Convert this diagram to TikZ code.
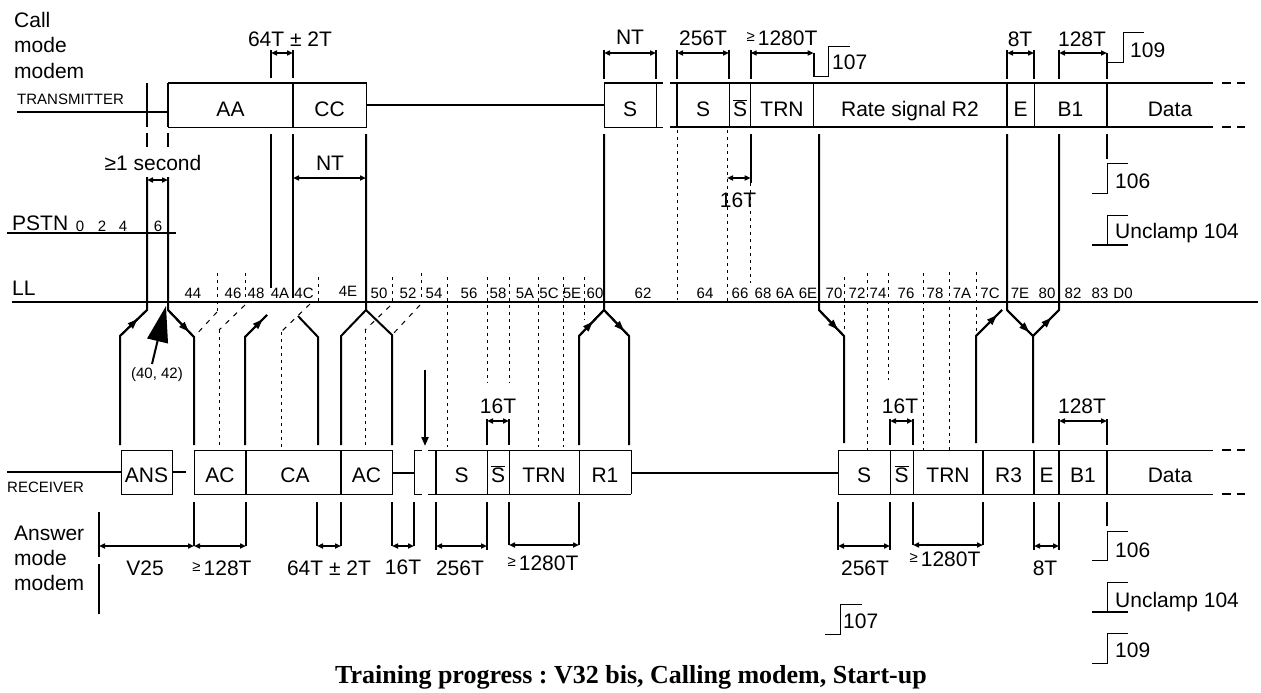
\documentclass[tikz,border=0pt]{standalone}
\usepackage{fontspec}
\setmainfont{Liberation Sans}
\newfontfamily\titlefont{Liberation Serif}
\usetikzlibrary{arrows.meta,decorations.markings}
\frenchspacing
\newcommand{\fsz}[1]{\fontsize{#1}{#1}\selectfont}
\newcommand{\Sbar}{\ensuremath{\overline{\hbox{S}}}}
\newcommand{\sge}{{\fsz{15}\raisebox{4pt}{≥}}\hspace{3pt}}
\begin{document}
\begin{tikzpicture}[x=1pt,y=-1pt,
  lab/.style={inner sep=0pt, anchor=base, font=\fsz{21}},
  labw/.style={inner sep=0pt, anchor=base west, font=\fsz{21}},
  small/.style={inner sep=0pt, anchor=base, font=\fsz{15}},
  sig/.style={line width=2pt},
  med/.style={line width=1.5pt},
  thin/.style={line width=1pt},
  dot/.style={line width=1pt, dash pattern=on 2.5pt off 4.5pt},
  dsh/.style={line width=1pt, dash pattern=on 5pt off 6pt},
  dim/.style={line width=1.6pt, >={Triangle[length=6pt,width=5pt]}, <->},
  marr/.style={postaction={decorate}, decoration={markings, mark=at position #1 with {\arrow{Triangle[length=10pt,width=7pt]}}}},
]
\useasboundingbox (0,0) rectangle (1261,693);

% ---------- left labels ----------
\node[labw] (call) at (14,28) {Call};
\node[labw] (mode1) at (14,53) {mode};
\node[labw] (modem1) at (14,78) {modem};
\node[small, anchor=base west] (tx) at (17,104) {TRANSMITTER};
\node[labw] (pstn) at (12,230) {PSTN};
\node[small] (p0) at (80,231) {0};
\node[small] (p2) at (102,231) {2};
\node[small] (p4) at (123,231) {4};
\node[small] (p6) at (158,231) {6};
\node[labw] (ll) at (12,295) {LL};
\node[small, anchor=base west] (rx) at (7,492) {RECEIVER};
\node[labw] (ans1) at (14,540) {Answer};
\node[labw] (mode2) at (14,565) {mode};
\node[labw] (modem2) at (14,590) {modem};

% ---------- main lines ----------
\draw[sig] (7,233) -- (176,233);
\draw[sig] (12,302) -- (1258,302);

% ---------- transmitter band ----------
\draw[sig] (17,112) -- (168,112);
\draw[sig] (147,83) -- (147,127);
\draw[thin] (168,83) rectangle (366,127);
\draw[sig] (168,83) -- (168,127);
\draw[med] (293,83) -- (293,127);
\draw[med] (366,105) -- (604,105);
\draw[thin] (604,83) rectangle (656,127);
\draw[thin] (656,83) -- (663,83) (656,127) -- (663,127);
\draw[med] (670,83) -- (1213,83) (670,127) -- (1213,127);
\draw[med, dash pattern=on 9pt off 6pt] (1222,83) -- (1245,83) (1222,127) -- (1245,127);
\draw[sig] (677,83) -- (677,127);
\draw[thin] (729,83) -- (729,127);
\draw[med] (750.7,83) -- (750.7,127);
\draw[med] (813.7,83) -- (813.7,127);
\draw[sig] (1007,83) -- (1007,127);
\draw[thin] (1034,83) -- (1034,127);
\draw[sig] (1107,83) -- (1107,127);
\node[lab] (tAA) at (230.5,116) {AA};
\node[lab] (tCC) at (329.5,116) {CC};
\node[lab] (tS1) at (630,116) {S};
\node[lab] (tS2) at (703,116) {S};
\node[lab] (tSb) at (740,116) {\Sbar};
\node[lab] (tTRN) at (782,116) {TRN};
\node[lab] (tR2) at (910,116) {Rate signal R2};
\node[lab] (tE) at (1020.5,116) {E};
\node[lab] (tB1) at (1070.5,116) {B1};
\node[lab] (tData) at (1170,116) {Data};

% ---------- receiver band ----------
\draw[sig] (7,472) -- (121,472);
\draw[thin] (121,450) rectangle (172,494);
\draw[med] (172,472) -- (186,472);
\draw[thin] (194,450) rectangle (392,494);
\draw[med] (246,450) -- (246,494) (341,450) -- (341,494);
\draw[med] (392,473) -- (414,473);
\draw[thin] (422,450) -- (414,450) -- (414,494) -- (422,494);
\draw[thin] (428,450) -- (631,450) (428,494) -- (631,494);
\draw[med] (436,450) -- (436,494);
\draw[thin] (487,450) -- (487,494) (509,450) -- (509,494) (579,450) -- (579,494) (631,450) -- (631,494);
\draw[med] (631,473) -- (838,473);
\draw[thin] (838,450) -- (1213,450) (838,494) -- (1213,494);
\draw[thin] (838,450) -- (838,494) (890,450) -- (890,494) (913,450) -- (913,494);
\draw[med] (983,450) -- (983,494) (1034,450) -- (1034,494) (1059,450) -- (1059,494) (1107,450) -- (1107,494);
\draw[med, dash pattern=on 9pt off 6pt] (1222,450) -- (1245,450) (1222,494) -- (1245,494);
\node[lab] (rANS) at (146.5,482) {ANS};
\node[lab] (rAC1) at (220,482) {AC};
\node[lab] (rCA) at (295,482) {CA};
\node[lab] (rAC2) at (366.5,482) {AC};
\node[lab] (rS1) at (461.5,482) {S};
\node[lab] (rSb1) at (498,482) {\Sbar};
\node[lab] (rTRN1) at (544,482) {TRN};
\node[lab] (rR1) at (605,482) {R1};
\node[lab] (rS2) at (864,482) {S};
\node[lab] (rSb2) at (901.5,482) {\Sbar};
\node[lab] (rTRN2) at (948,482) {TRN};
\node[lab] (rR3) at (1008.5,482) {R3};
\node[lab] (rE) at (1046.5,482) {E};
\node[lab] (rB1) at (1083,482) {B1};
\node[lab] (rData) at (1170,482) {Data};

% ---------- top dimensions ----------
\draw[sig] (271,50) -- (271,78) (293,50) -- (293,78);
\draw[dim] (271,53) -- (293,53);
\node[lab] (d64t) at (290,47) {64T ± 2T};
\draw[sig] (604,50) -- (604,79) (656,50) -- (656,79);
\draw[dim] (604,53) -- (656,53);
\node[lab] (dNTt) at (630,45) {NT};
\draw[sig] (677,50) -- (677,79) (729,50) -- (729,79);
\draw[dim] (677,53) -- (729,53);
\node[lab] (d256t) at (703,46) {256T};
\draw[sig] (750.7,50) -- (750.7,79) (813.7,53) -- (813.7,77);
\draw[dim] (750.7,53) -- (813.7,53);
\node[lab] (d1280t) at (782,46) {\sge 1280T};
\draw[thin] (813.7,77) -- (828,77) -- (828,47) -- (850,47);
\node[labw] (l107t) at (832,70) {107};
\draw[sig] (1007,50) -- (1007,79) (1034,50) -- (1034,79);
\draw[dim] (1007,53) -- (1034,53);
\node[lab] (d8t) at (1020,47) {8T};
\draw[sig] (1059,50) -- (1059,79) (1107,53) -- (1107,79);
\draw[dim] (1059,53) -- (1107,53);
\node[lab] (d128t) at (1082,47) {128T};
\draw[thin] (1107,63) -- (1123,63) -- (1123,33) -- (1144,33);
\node[labw] (l109t) at (1130,58) {109};

% ---------- middle dimensions ----------
\node[lab] (dsec) at (153,170) {≥1 second};
\draw[sig] (147,133) -- (147,147) (168,133) -- (168,147);
\draw[dim] (147,180) -- (168,180);
\draw[dim] (293,178) -- (366,178);
\node[lab] (dNTm) at (330,170) {NT};
\draw[dim] (727,178) -- (750.7,178);
\node[lab] (d16m) at (738,207) {16T};
\draw[thin] (1092,193) -- (1107,193) -- (1107,163) -- (1128,163);
\node[labw] (l106t) at (1115,188) {106};
\draw[thin] (1128,215) -- (1107,215) -- (1107,245);
\draw[med] (1092,245) -- (1128,245);
\node[labw] (lunct) at (1115,238) {Unclamp 104};

% ---------- signal lines ----------
\draw[sig] (147,177) -- (147,310) -- (120,336) -- (120,445);
\draw[sig, marr=0.65] (120,336) -- (147,310);
\draw[sig] (168,177) -- (168,310) -- (194,337) -- (194,445);
\draw[sig, marr=0.8] (168,310) -- (194,337);
\draw[sig] (271,134) -- (271,288);
\draw[sig] (293,134) -- (293,298);
\draw[sig] (366,134) -- (366,310) -- (341,336) -- (341,445);
\draw[sig] (366,310) -- (392,335) -- (392,445);
\draw[sig] (604,134) -- (604,310) -- (579,336) -- (579,445);
\draw[sig, marr=0.55] (579,336) -- (604,310);
\draw[sig] (604,310) -- (629,336) -- (629,445);
\draw[sig, marr=0.8] (604,310) -- (629,336);
\draw[sig] (750.7,134) -- (750.7,183);
\draw[sig] (819,134) -- (819,310) -- (844,336) -- (844,443);
\draw[sig, marr=0.75] (819,310) -- (844,336);
\draw[sig] (1007,134) -- (1007,310) -- (1033,336) -- (1033,443);
\draw[sig, marr=0.85] (1007,310) -- (1033,336);
\draw[sig] (1033,336) -- (1059,310) -- (1059,134);
\draw[sig, marr=0.7] (1033,336) -- (1059,310);
\draw[sig] (1107,134) -- (1107,159);
\draw[sig] (245,445) -- (245,337) -- (267,315);
\draw[sig, marr=0.8] (245,337) -- (267,315);
\draw[sig] (976,443) -- (976,336) -- (1002,310);
\draw[sig, marr=0.8] (976,336) -- (1002,310);
\draw[sig] (318,445) -- (318,337) -- (298,316);
\draw[sig, -{Triangle[length=9pt,width=7pt]}] (425,370) -- (425,446);

% big arrow (40, 42)
\node[small] (c4042) at (157,378) {(40, 42)};
\draw[line width=2pt, -{Triangle[length=36pt,width=21pt]}] (152,364) -- (166,306);

% ---------- dotted event lines ----------
\draw[dot] (217,273) -- (217,312);
\draw[dsh] (217,312) -- (194,337);
\draw[dot] (245,273) -- (245,302);
\draw[dsh] (245,305) -- (219,330);
\draw[dot] (219,330) -- (219,447);
\draw[dot] (318,277) -- (318,302);
\draw[dsh] (310,304) -- (281,332);
\draw[dot] (281,332) -- (281,447);
\draw[dot] (392,277) -- (392,302);
\draw[dsh] (390,306) -- (365,330);
\draw[dot] (365,330) -- (365,447);
\draw[dot] (421,273) -- (421,302);
\draw[dsh] (420,305) -- (392,335);
\draw[dot] (447,277) -- (447,447);
\draw[dot] (487,277) -- (487,383);
\draw[dot] (509,277) -- (509,383);
\draw[dot] (538,277) -- (538,447);
\draw[dot] (563,277) -- (563,447);
\draw[dot] (584,277) -- (584,320);
\draw[dot] (677,130) -- (677,300);
\draw[dot] (727,130) -- (727,302);
\draw[dot] (750.7,183) -- (750.7,283);
\draw[dot] (844,277) -- (844,330);
\draw[dot] (867,273) -- (867,450);
\draw[dot] (888,273) -- (888,380);
\draw[dot] (923,273) -- (923,450);
\draw[dot] (949,272) -- (949,450);
\draw[dot] (976,272) -- (976,336);

% ---------- LL labels ----------
\foreach \t/\x in {44/193,46/233,48/256,4A/280,4C/304,50/379,52/408,54/434,56/469,58/498,5A/525,5C/549,5E/572,60/595,62/643,64/705,66/740,68/763,6A/785,6E/808,70/834,72/857,74/878,76/906,78/935,7A/962,7C/990,7E/1020,80/1047,82/1073,83/1100,D0/1123}
  \node[small] (ll\t) at (\x,298) {\t};
\node[small] (ll4E) at (348,296) {4E};

% ---------- lower receiver-side dims ----------
\draw[sig] (487,419) -- (487,445) (509,419) -- (509,445);
\draw[dim] (487,421) -- (509,421);
\node[lab] (d16r1) at (498,413) {16T};
\draw[sig] (890,419) -- (890,445) (913,419) -- (913,445);
\draw[dim] (890,421) -- (913,421);
\node[lab] (d16r2) at (900,413) {16T};
\draw[sig] (1059,419) -- (1059,445) (1107,419) -- (1107,445);
\draw[dim] (1059,421) -- (1107,421);
\node[lab] (d128r) at (1082,413) {128T};

% ---------- bottom dimensions ----------
\draw[sig] (99,512) -- (99,557) (99,564) -- (99,614);
\draw[sig] (194,502) -- (194,546) (246,502) -- (246,546);
\draw[dim] (99,546) -- (194,546);
\draw[dim] (194,546) -- (246,546);
\node[lab] (dv25) at (145,575) {V25};
\node[lab] (d128b) at (222,575) {\sge 128T};
\draw[sig] (317,502) -- (317,546) (341,502) -- (341,546);
\draw[dim] (317,546) -- (341,546);
\node[lab] (d64b) at (329,575) {64T ± 2T};
\draw[sig] (392,502) -- (392,546) (414,502) -- (414,546);
\draw[dim] (392,546) -- (414,546);
\node[lab] (d16b) at (403,574) {16T};
\draw[sig] (436,502) -- (436,550) (487,502) -- (487,550);
\draw[dim] (436,546) -- (487,546);
\node[lab] (d256b1) at (460,575) {256T};
\draw[sig] (509,502) -- (509,545) (579,502) -- (579,545);
\draw[dim] (509,545) -- (579,545);
\node[lab] (d1280b1) at (543,570) {\sge 1280T};
\draw[sig] (838,502) -- (838,550) (890,502) -- (890,550);
\draw[dim] (838,546) -- (890,546);
\node[lab] (d256b2) at (865,575) {256T};
\draw[sig] (913,502) -- (913,545) (983,502) -- (983,545);
\draw[dim] (913,545) -- (983,545);
\node[lab] (d1280b2) at (945,566) {\sge 1280T};
\draw[sig] (1034,502) -- (1034,550) (1059,502) -- (1059,550);
\draw[dim] (1034,546) -- (1059,546);
\node[lab] (d8b) at (1045,575) {8T};
\draw[sig] (1107,502) -- (1107,526);
\draw[thin] (1092,560) -- (1107,560) -- (1107,531) -- (1128,531);
\node[labw] (l106b) at (1115,557) {106};
\draw[thin] (1128,582) -- (1107,582) -- (1107,612);
\draw[med] (1092,612) -- (1128,612);
\node[labw] (lunb) at (1115,607) {Unclamp 104};
\draw[thin] (1128,633) -- (1107,633) -- (1107,663) -- (1092,663);
\node[labw] (l109b) at (1115,657) {109};
\draw[thin] (862,604) -- (840,604) -- (840,634) -- (825,634);
\node[labw] (l107b) at (843,628) {107};

% ---------- title ----------
\node[inner sep=0pt, anchor=base, font=\titlefont\bfseries\fsz{26}] (title) at (631,683) {Training progress : V32 bis, Calling modem, Start-up};
\end{tikzpicture}
\end{document}
